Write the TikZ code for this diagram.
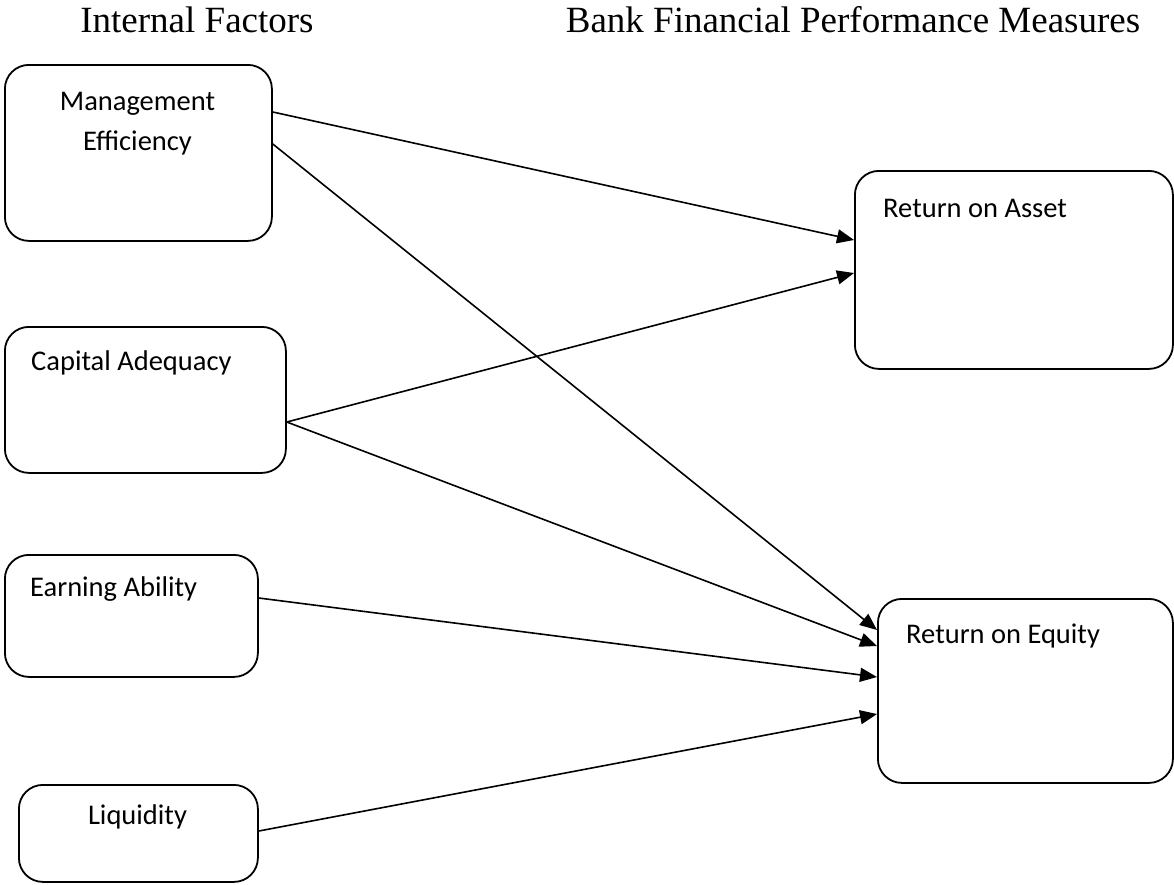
\documentclass[tikz,border=0pt]{standalone}
\usepackage{fontspec}
\setmainfont{Liberation Serif}
\newfontfamily\boxfont{Carlito}
\usetikzlibrary{arrows.meta}
\tikzset{
  box/.style={draw=black, line width=1.8pt, rounded corners=24pt, inner sep=0pt, anchor=north west},
  lbl/.style={inner sep=0pt, font=\boxfont\fontsize{28.5}{40}\selectfont},
  ttl/.style={inner sep=0pt, anchor=base, font=\fontsize{37}{44}\selectfont},
  arr/.style={line width=1.6pt, -{Triangle[length=17pt,width=14pt]}}
}
\begin{document}
\begin{tikzpicture}[x=1pt,y=-1pt]
\useasboundingbox (0,0) rectangle (1174,884);
% titles
\node[ttl] (t1) at (197,32) {Internal Factors};
\node[ttl] (t2) at (853,32) {Bank Financial Performance Measures};
% boxes
\node[box, minimum width=267pt, minimum height=176pt] (m) at (4,64) {};
\node[box, minimum width=281pt, minimum height=146pt] (c) at (4,326) {};
\node[box, minimum width=253pt, minimum height=122pt] (e) at (4,554) {};
\node[box, minimum width=239pt, minimum height=97pt] (l) at (18,784) {};
\node[box, minimum width=318pt, minimum height=198pt] (roa) at (854,170) {};
\node[box, minimum width=295pt, minimum height=184pt] (roe) at (877,598) {};
% labels
\node[lbl, anchor=base] (m1) at (137.5,110.5) {Management};
\node[lbl, anchor=base] (m2) at (137.5,150.5) {Efficiency};
\node[lbl, anchor=base west] (c1) at (31,370) {Capital Adequacy};
\node[lbl, anchor=base west] (e1) at (30,596) {Earning Ability};
\node[lbl, anchor=base] (l1) at (137.5,824) {Liquidity};
\node[lbl, anchor=base west] (roa1) at (883,217) {Return on Asset};
\node[lbl, anchor=base west] (roe1) at (906,643) {Return on Equity};
% connectors
\draw[arr] ([yshift=-48pt]m.north east) -- ([yshift=-70pt]roa.north west);
\draw[arr] ([yshift=-80pt]m.north east) -- ([yshift=-32pt]roe.north west);
\draw[arr] ([yshift=-96pt]c.north east) -- ([yshift=-103pt]roa.north west);
\draw[arr] ([yshift=-96pt]c.north east) -- ([yshift=-48pt]roe.north west);
\draw[arr] ([yshift=-44pt]e.north east) -- ([yshift=-79pt]roe.north west);
\draw[arr] ([yshift=-47pt]l.north east) -- ([yshift=-116pt]roe.north west);
\end{tikzpicture}
\end{document}
